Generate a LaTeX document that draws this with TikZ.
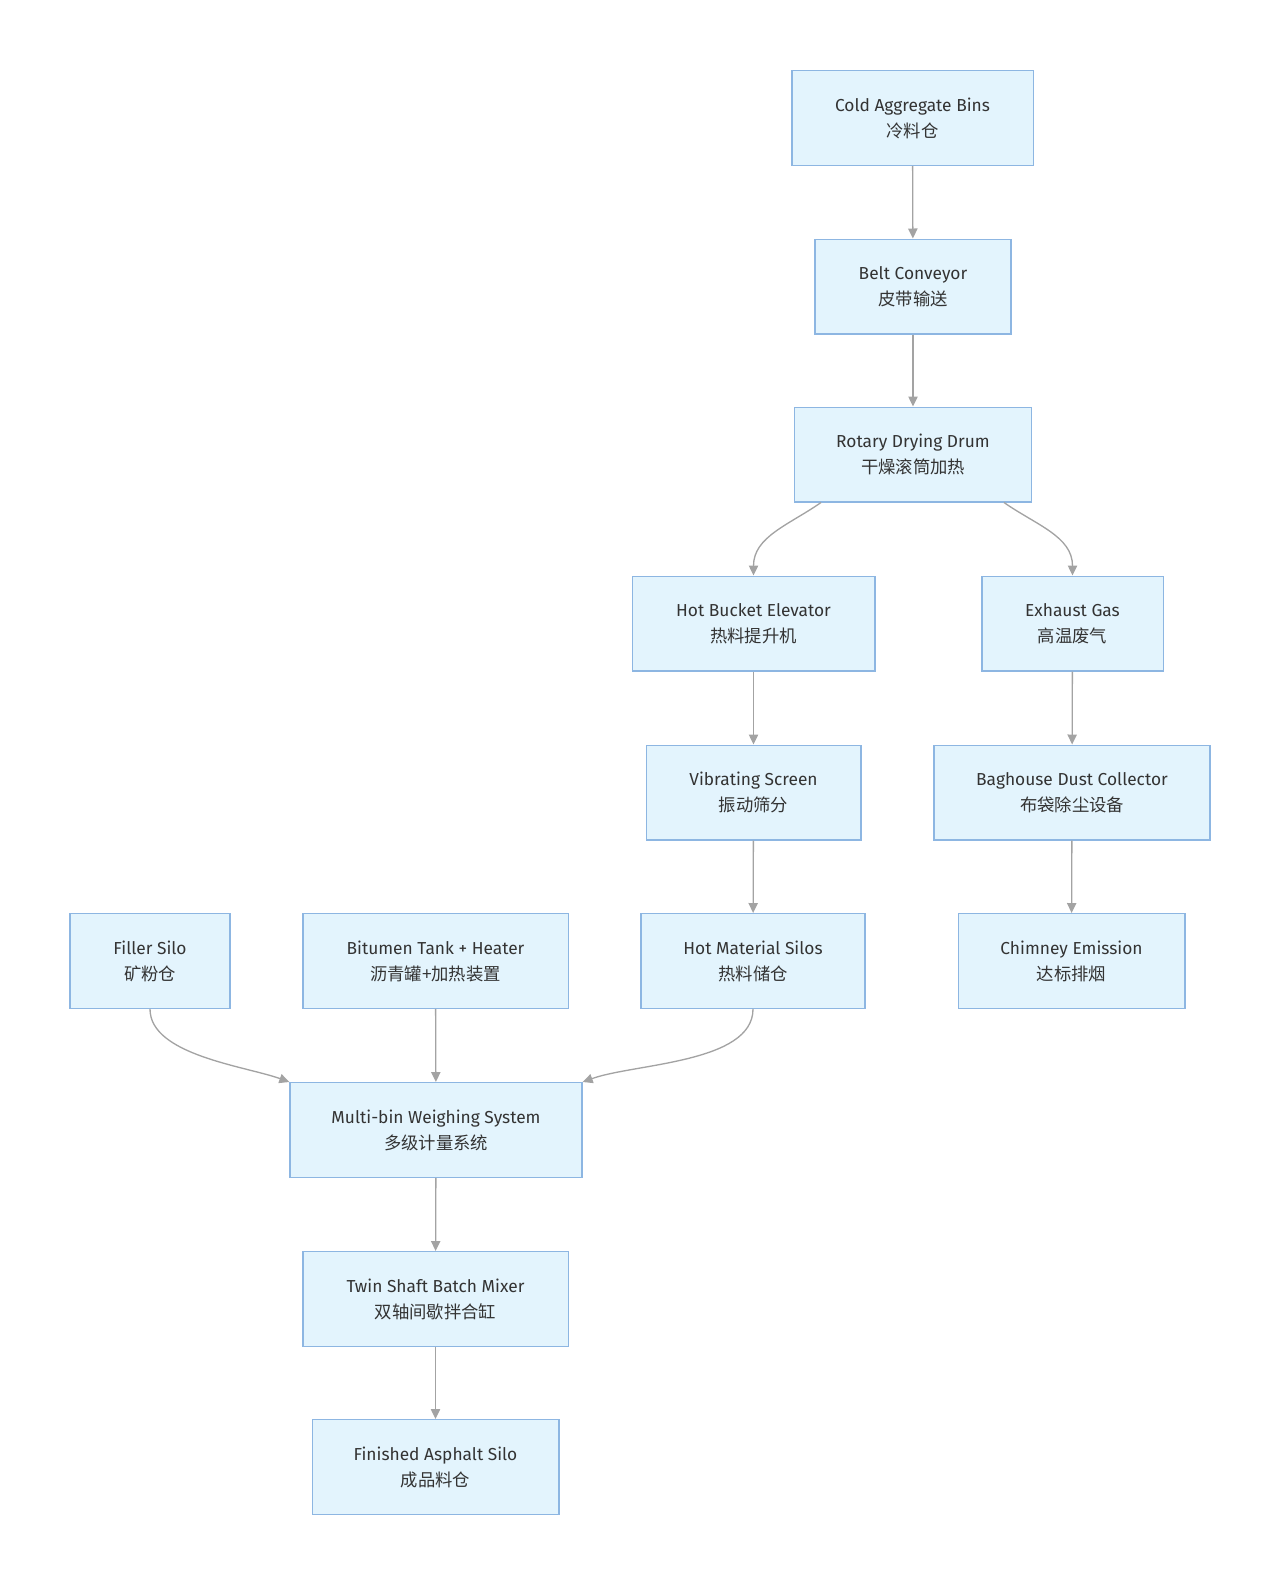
\documentclass[tikz,border=0pt]{standalone}
\usepackage{fontspec}
\setmainfont{Fira Sans}
\newfontfamily\cjk{Noto Sans CJK SC}
\usetikzlibrary{positioning,arrows.meta}

\definecolor{boxfill}{HTML}{E3F4FD}
\definecolor{boxline}{HTML}{8DB6E2}
\definecolor{flowline}{HTML}{A3A3A3}
\definecolor{labeltext}{HTML}{333333}

\tikzset{
	unit/.style={draw=boxline, fill=boxfill, line width=1pt, text=labeltext,
		align=center, font=\fontsize{13}{19.5}\selectfont,
		minimum height=71pt, inner sep=0pt},
	flow/.style={draw=flowline, line width=1pt,
		-{Triangle[length=7.5pt,width=7pt]}},
}

\begin{document}
\begin{tikzpicture}
		[x=0.75pt, y=-0.75pt]
		\useasboundingbox (0,0) rectangle (1280,1585);
		% aggregate line
		\node[unit, minimum width=181pt] (cold) at (912.5,118) {Cold Aggregate Bins\\{\cjk 冷料仓}};
		\node[unit, minimum width=147pt] (belt) at (913,286.5) {Belt Conveyor\\{\cjk 皮带输送}};
		\node[unit, minimum width=178pt] (drum) at (913,454.5) {Rotary Drying Drum\\{\cjk 干燥滚筒加热}};
		\node[unit, minimum width=182pt] (bucket) at (753.5,623.5) {Hot Bucket Elevator\\{\cjk 热料提升机}};
		\node[unit, minimum width=161pt] (screen) at (753.5,792.5) {Vibrating Screen\\{\cjk 振动筛分}};
		\node[unit, minimum width=168pt] (hotsilo) at (753,961) {Hot Material Silos\\{\cjk 热料储仓}};
		% exhaust line
		\node[unit, minimum width=136pt] (gas) at (1072.5,623.5) {Exhaust Gas\\{\cjk 高温废气}};
		\node[unit, minimum width=207pt] (bag) at (1072,792.5) {Baghouse Dust Collector\\{\cjk 布袋除尘设备}};
		\node[unit, minimum width=170pt] (chimney) at (1071.5,961) {Chimney Emission\\{\cjk 达标排烟}};
		% filler, binder, mixing
		\node[unit, minimum width=120pt] (filler) at (150,961) {Filler Silo\\{\cjk 矿粉仓}};
		\node[unit, minimum width=199pt] (bitumen) at (435.5,961) {Bitumen Tank + Heater\\{\cjk 沥青罐+加热装置}};
		\node[unit, minimum width=219pt] (weigh) at (436,1130) {Multi-bin Weighing System\\{\cjk 多级计量系统}};
		\node[unit, minimum width=199pt] (mixer) at (435.5,1299) {Twin Shaft Batch Mixer\\{\cjk 双轴间歇拌合缸}};
		\node[unit, minimum width=185pt] (finished) at (435.5,1467) {Finished Asphalt Silo\\{\cjk 成品料仓}};

		\draw[flow] (cold) -- (belt);
		\draw[flow] (belt) -- (drum);
		\draw[flow] (drum.south -| 821,0) to[out=-145, in=90] (bucket.north);
		\draw[flow] (drum.south -| 1004,0) to[out=-35, in=90] (gas.north);
		\draw[flow] (bucket) -- (screen);
		\draw[flow] (screen) -- (hotsilo);
		\draw[flow] (gas) -- (bag);
		\draw[flow] (bag) -- (chimney);
		\draw[flow] (filler.south) to[out=-90, in=160, looseness=0.75] (weigh.north west);
		\draw[flow] (bitumen) -- (weigh);
		\draw[flow] (hotsilo.south) to[out=-90, in=20, looseness=0.75] (weigh.north east);
		\draw[flow] (weigh) -- (mixer);
		\draw[flow] (mixer) -- (finished);
	\end{tikzpicture}
\end{document}
